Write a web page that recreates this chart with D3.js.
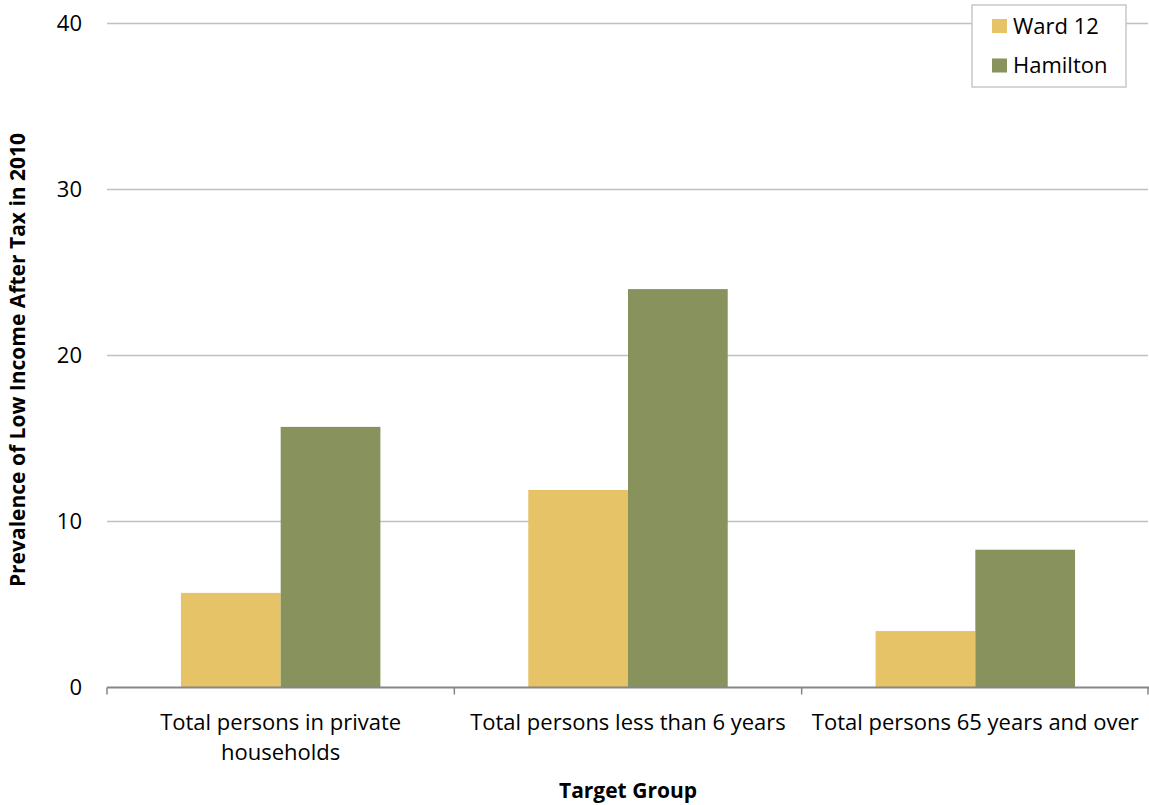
<!DOCTYPE html>
<html><head><meta charset="utf-8">
<script src="https://cdn.jsdelivr.net/npm/d3@7"></script>
<style>body{margin:0;background:#fff}svg{display:block}text{font-family:"Open Sans",sans-serif;fill:#000}</style>
</head><body><svg id="c" width="1149" height="805"></svg>
<script>
const categories = [["Total persons in private","households"],["Total persons less than 6 years"],["Total persons 65 years and over"]];
const seriesNames = ["Ward 12","Hamilton"];
const ward12 = [5.7, 11.9, 3.4];
const hamilton = [15.7, 24.0, 8.3];
const yTicks = [0,10,20,30,40];
const colors = ["#E5C366","#87925D"];

(function(){
const svg = d3.select("#c");
const pLeft=107, pRight=1149, pTop=23.5, pBottom=687.5;
const x = d3.scaleBand().domain(d3.range(categories.length)).range([pLeft,pRight]).paddingInner(0).paddingOuter(0);
const x1 = d3.scaleBand().domain(seriesNames).range([0,x.bandwidth()]).paddingInner(0).paddingOuter(0.7415);
const y = d3.scaleLinear().domain([0,40]).range([pBottom,pTop]);
const fs = "22px";

svg.append("g").selectAll("line").data(yTicks.filter(d=>d>0)).join("line")
 .attr("x1",pLeft).attr("x2",pRight-1).attr("y1",d=>y(d)).attr("y2",d=>y(d))
 .attr("stroke","#c0c0c0").attr("stroke-width",1.5);

svg.append("g").selectAll("text").data(yTicks).join("text")
 .attr("x",82).attr("y",d=>y(d)).attr("dy","0.36em").attr("text-anchor","end")
 .style("font-size",fs).text(d=>d);

const data = [ward12, hamilton];
const g = svg.append("g");
categories.forEach((c,i)=>{
  seriesNames.forEach((s,j)=>{
    g.append("rect").attr("x",x(i)+x1(s)).attr("width",x1.bandwidth())
     .attr("y",y(data[j][i])).attr("height",pBottom-y(data[j][i])).attr("fill",colors[j]);
  });
});

const xa = svg.append("g");
xa.append("line").attr("x1",pLeft).attr("x2",pRight).attr("y1",pBottom).attr("y2",pBottom).attr("stroke","#868686").attr("stroke-width",2);
const bounds = d3.range(categories.length+1).map(i=> i<categories.length? x(i): pRight-1);
xa.selectAll(".tk").data(bounds).join("line").attr("class","tk")
 .attr("x1",d=>d).attr("x2",d=>d).attr("y1",pBottom).attr("y2",pBottom+7).attr("stroke","#868686").attr("stroke-width",1.5);

categories.forEach((lines,i)=>{
  const cx = x(i)+x.bandwidth()/2;
  const t = svg.append("text").attr("x",cx).attr("y",730).attr("text-anchor","middle").style("font-size",fs);
  lines.forEach((l,k)=> t.append("tspan").attr("x",cx).attr("dy",k?30:0).text(l));
});

svg.append("text").attr("x",628).attr("y",798).attr("text-anchor","middle").style("font-size","21px").style("font-weight","bold").text("Target Group");
svg.append("text").attr("transform","translate(25,360) rotate(-90)").attr("text-anchor","middle").style("font-size","21px").style("font-weight","bold").text("Prevalence of Low Income After Tax in 2010");

const lg = svg.append("g");
lg.append("rect").attr("x",972).attr("y",5).attr("width",154).attr("height",82).attr("fill","#fff").attr("stroke","#c8c8c8").attr("stroke-width",1.5);
seriesNames.forEach((s,j)=>{
  lg.append("rect").attr("x",992).attr("y",19+j*39.5).attr("width",15).attr("height",14).attr("fill",colors[j]);
  lg.append("text").attr("x",1013).attr("y",26+j*39.5).attr("dy","0.36em").style("font-size",fs).text(s);
});
})();
</script></body></html>
